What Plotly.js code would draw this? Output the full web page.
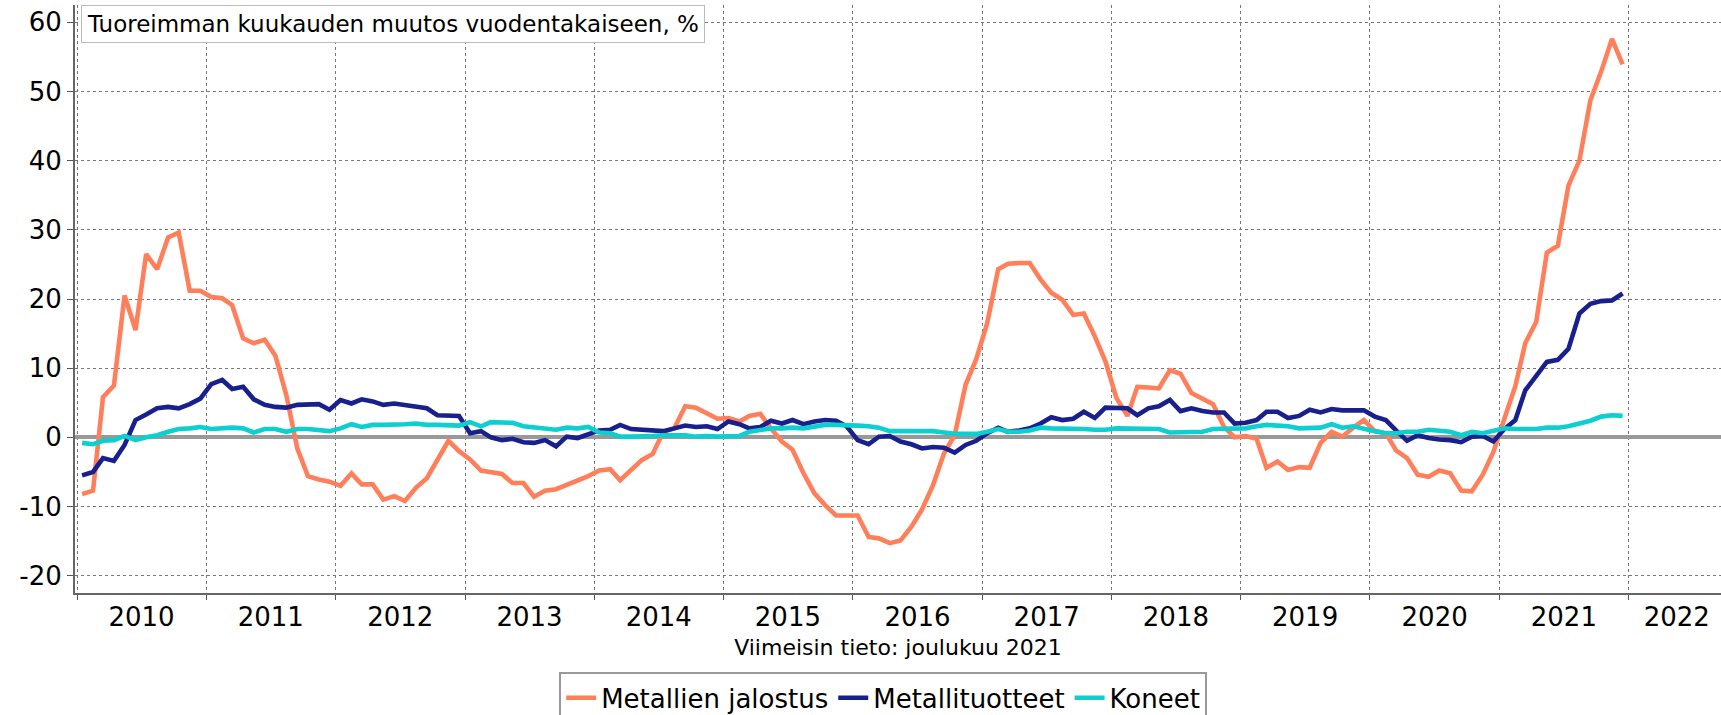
<!DOCTYPE html>
<html>
<head>
<meta charset="utf-8">
<script src="https://cdn.plot.ly/plotly-3.0.1.min.js"></script>
<style>html,body{margin:0;padding:0;background:#fff;}#chart{width:1721px;height:715px;}</style>
</head>
<body>
<div id="chart"></div>
<script>
// Monthly data, January 2010 – December 2021 (change vs. same month a year earlier, %)
const startYear = 2010;
const endYear = 2021;

const metallienJalostus = [
  -8.2, -7.7, 5.8, 7.5, 20.5, 15.5, 26.5, 24.3, 28.9, 29.6, 21.2, 21.2,
  20.3, 20.1, 19.1, 14.3, 13.6, 14.1, 11.8, 6.1, -1.6, -5.6, -6.1, -6.4,
  -7.0, -5.2, -6.8, -6.8, -9.0, -8.5, -9.2, -7.3, -5.9, -3.1, -0.5, -2.0,
  -3.2, -4.8, -5.1, -5.3, -6.6, -6.6, -8.6, -7.7, -7.5, -6.9, -6.3, -5.6,
  -4.8, -4.6, -6.2, -4.7, -3.3, -2.4, 0.8, 1.3, 4.5, 4.3, 3.5, 2.7,
  2.8, 2.3, 3.1, 3.4, 1.3, -0.6, -1.8, -5.2, -8.1, -9.8, -11.3, -11.3,
  -11.3, -14.4, -14.6, -15.3, -14.9, -12.9, -10.4, -6.9, -2.3, 0.3, 7.6, 11.3,
  16.5, 24.3, 25.1, 25.2, 25.2, 22.8, 20.9, 19.9, 17.7, 17.9, 14.6, 11.0,
  5.7, 3.1, 7.3, 7.2, 7.1, 9.7, 9.2, 6.4, 5.6, 4.8, 1.5, 0.0,
  0.2, -0.2, -4.4, -3.5, -4.7, -4.3, -4.4, -0.8, 0.8, 0.1, 1.4, 2.5,
  0.9, 0.6, -1.9, -3.0, -5.4, -5.7, -4.8, -5.2, -7.7, -7.8, -5.4, -2.1,
  2.7, 7.4, 13.6, 16.7, 26.7, 27.7, 36.4, 40.0, 48.7, 52.8, 57.6, 53.9
];

const metallituotteet = [
  -5.5, -5.0, -3.0, -3.4, -1.1, 2.5, 3.3, 4.2, 4.4, 4.2, 4.8, 5.6,
  7.7, 8.3, 7.0, 7.3, 5.5, 4.7, 4.4, 4.3, 4.7, 4.7, 4.8, 4.0,
  5.4, 4.9, 5.5, 5.2, 4.7, 4.9, 4.7, 4.5, 4.2, 3.2, 3.1, 3.1,
  0.6, 0.9, 0.0, -0.4, -0.2, -0.7, -0.8, -0.4, -1.3, 0.1, -0.1, 0.5,
  1.0, 1.1, 1.8, 1.2, 1.1, 0.9, 0.9, 1.3, 1.7, 1.5, 1.6, 1.2,
  2.3, 1.9, 1.3, 1.5, 2.4, 2.0, 2.5, 1.9, 2.3, 2.5, 2.4, 1.6,
  -0.4, -1.0, 0.1, 0.2, -0.6, -1.0, -1.6, -1.4, -1.5, -2.2, -1.1, -0.5,
  0.6, 1.4, 0.8, 1.0, 1.3, 2.0, 2.9, 2.5, 2.7, 3.7, 2.8, 4.3,
  4.3, 4.2, 3.2, 4.2, 4.5, 5.4, 3.8, 4.2, 3.8, 3.6, 3.6, 2.0,
  2.1, 2.5, 3.7, 3.7, 2.8, 3.1, 4.0, 3.6, 4.1, 3.9, 3.9, 3.9,
  3.0, 2.5, 1.0, -0.5, 0.3, -0.1, -0.3, -0.4, -0.7, 0.1, 0.2, -0.6,
  1.2, 2.5, 6.8, 8.9, 10.9, 11.2, 12.8, 17.9, 19.3, 19.7, 19.8, 20.8
];

const koneet = [
  -0.8, -1.0, -0.5, -0.4, 0.2, -0.4, 0.0, 0.3, 0.8, 1.2, 1.3, 1.5,
  1.2, 1.3, 1.4, 1.3, 0.7, 1.2, 1.2, 0.8, 1.2, 1.2, 1.0, 0.9,
  1.3, 1.9, 1.5, 1.8, 1.8, 1.8, 1.9, 2.0, 1.8, 1.8, 1.8, 1.7,
  2.2, 1.6, 2.2, 2.2, 2.1, 1.6, 1.4, 1.2, 1.1, 1.4, 1.3, 1.5,
  0.7, 0.6, 0.1, 0.1, 0.1, 0.2, 0.3, 0.3, 0.3, 0.1, 0.2, 0.1,
  0.1, 0.2, 0.8, 1.1, 1.3, 1.3, 1.4, 1.3, 1.6, 1.8, 1.8, 1.8,
  1.7, 1.6, 1.4, 0.9, 0.9, 0.9, 0.9, 0.9, 0.7, 0.5, 0.5, 0.5,
  0.8, 1.2, 0.8, 0.8, 1.0, 1.4, 1.3, 1.3, 1.2, 1.2, 1.1, 1.1,
  1.3, 1.3, 1.2, 1.2, 1.2, 0.7, 0.7, 0.8, 0.8, 1.2, 1.2, 1.2,
  1.3, 1.6, 1.8, 1.7, 1.6, 1.3, 1.4, 1.4, 1.9, 1.4, 1.6, 1.2,
  0.9, 0.6, 0.6, 0.8, 0.8, 1.1, 0.9, 0.8, 0.3, 0.8, 0.6, 1.0,
  1.3, 1.2, 1.2, 1.2, 1.4, 1.4, 1.6, 2.0, 2.4, 3.0, 3.2, 3.1
];

const seriesNames = ["Metallien jalostus", "Metallituotteet", "Koneet"];
const seriesColors = ["#FF7F5B", "#18208E", "#0DCFD0"];

const yTickVals = [-20, -10, 0, 10, 20, 30, 40, 50, 60];
const yTickText = ["-20", "-10", "0", "10", "20", "30", "40", "50", "60"];
const yearLabels = ["2010", "2011", "2012", "2013", "2014", "2015", "2016",
                    "2017", "2018", "2019", "2020", "2021", "2022"];

const chartTitle = "Tuoreimman kuukauden muutos vuodentakaiseen, %";
const xAxisTitle = "Viimeisin tieto: joulukuu 2021";

const xRange = ["2009-12-26", "2022-09-19"];

// Month dates (plotted mid-month)
const dates = [];
for (let y = startYear; y <= endYear; y++) {
  for (let m = 1; m <= 12; m++) {
    dates.push(y + "-" + String(m).padStart(2, "0") + "-15");
  }
}
// Year labels in the middle of each year; the last one kept inside the chart edge
const yearLabelPos = yearLabels.map((s, i) =>
  i === yearLabels.length - 1 ? s + "-05-17" : s + "-07-02");

const allSeries = [metallienJalostus, metallituotteet, koneet];
const traces = allSeries.map((vals, k) => ({
  x: dates,
  y: vals,
  type: "scatter",
  mode: "lines",
  name: seriesNames[k],
  line: { color: seriesColors[k], width: 4.6 }
}));

const font = "DejaVu Sans, Verdana, sans-serif";

const layout = {
  width: 1721,
  height: 715,
  margin: { l: 75, r: 0, t: 5, b: 122, autoexpand: false },
  paper_bgcolor: "#ffffff",
  plot_bgcolor: "#ffffff",
  font: { family: font, color: "#000", size: 26 },
  showlegend: true,
  legend: {
    orientation: "h",
    x: 0.491, xanchor: "center",
    y: -0.135, yanchor: "top",
    font: { family: font, size: 26, color: "#000" },
    bordercolor: "#999", borderwidth: 2,
    bgcolor: "#fff",
    itemwidth: 30,
    tracegroupgap: 0
  },
  xaxis: {
    type: "date",
    range: xRange,
    tickmode: "array",
    tickvals: yearLabelPos,
    ticktext: yearLabels,
    ticks: "",
    showgrid: false,
    ticklabeloverflow: "allow",
    minor: {
      tickmode: "linear",
      tick0: "2010-01-01",
      dtick: "M12",
      ticks: "outside",
      ticklen: 5,
      tickcolor: "#555",
      tickwidth: 1,
      showgrid: true,
      gridcolor: "#777",
      griddash: "dot",
      gridwidth: 1
    },
    showline: true,
    linecolor: "#666",
    linewidth: 2,
    zeroline: false,
    tickfont: { family: font, size: 26, color: "#000" },
    title: { text: xAxisTitle, font: { family: font, size: 22, color: "#000" }, standoff: 8 }
  },
  yaxis: {
    range: [-22.5, 62.5],
    tickmode: "array",
    tickvals: yTickVals,
    ticktext: yTickText,
    ticks: "outside",
    ticklen: 6,
    tickcolor: "#555",
    tickwidth: 1,
    showgrid: true,
    gridcolor: "#777",
    griddash: "dot",
    gridwidth: 1,
    showline: true,
    linecolor: "#666",
    linewidth: 2,
    zeroline: true,
    zerolinecolor: "#999",
    zerolinewidth: 4,
    tickfont: { family: font, size: 26, color: "#000" }
  },
  annotations: [{
    text: chartTitle,
    xref: "paper", yref: "paper",
    x: 0.0036, y: 1,
    xanchor: "left", yanchor: "top",
    showarrow: false,
    font: { family: font, size: 23, color: "#000" },
    bgcolor: "#fff",
    bordercolor: "#bbb",
    borderwidth: 1,
    borderpad: 5
  }]
};

Plotly.newPlot("chart", traces, layout, { displayModeBar: false, staticPlot: true });
</script>
</body>
</html>
